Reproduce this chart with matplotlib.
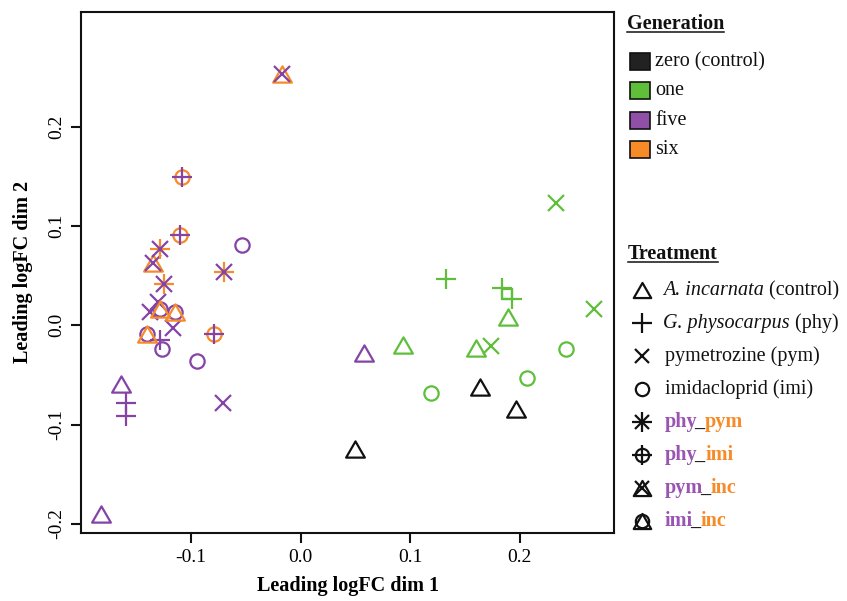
import matplotlib
matplotlib.use('Agg')
import matplotlib.pyplot as plt
from matplotlib.path import Path
from matplotlib.markers import MarkerStyle
from matplotlib.patches import Rectangle

plt.rcParams['font.family'] = ['Liberation Serif', 'DejaVu Serif']

# ---- data ----
# generation zero (control)
zero_inc_x = [0.0498, 0.1639, 0.1968]
zero_inc_y = [-0.1249, -0.0624, -0.0840]

# generation one
one_inc_x = [0.0933, 0.1600, 0.1892]
one_inc_y = [-0.0198, -0.0232, 0.0081]
one_phy_x = [0.1329, 0.1837, 0.1929]
one_phy_y = [0.0469, 0.0373, 0.0265]
one_pym_x = [0.2333, 0.2683, 0.1740]
one_pym_y = [0.1235, 0.0164, -0.0208]
one_imi_x = [0.2422, 0.2071, 0.1189]
one_imi_y = [-0.0242, -0.0528, -0.0685]
one_odd_x = [0.1883]
one_odd_y = [0.0315]

# generation five
five_inc_x = [-0.1822, -0.1642, 0.0580]
five_inc_y = [-0.1901, -0.0591, -0.0282]
five_phy_x = [-0.1596, -0.1596, -0.1283]
five_phy_y = [-0.0779, -0.0913, -0.0148]
five_pym_x = [-0.0705, -0.1162, -0.1374, -0.1299]
five_pym_y = [-0.0779, -0.0024, 0.0137, 0.0238]
five_imi_x = [-0.0537, -0.0942, -0.1262]
five_imi_y = [0.0809, -0.0360, -0.0242]

# generation six (combined treatments)
six_pym_inc_x = [-0.0166, -0.1344]
six_pym_inc_y = [0.2526, 0.0632]
six_phy_imi_x = [-0.1082, -0.1100, -0.0787]
six_phy_imi_y = [0.1494, 0.0909, -0.0088]
six_phy_pym_x = [-0.1283, -0.0696, -0.1244]
six_phy_pym_y = [0.0765, 0.0540, 0.0413]
six_imi_inc_x = [-0.1146, -0.1405, -0.1288]
six_imi_inc_y = [0.0129, -0.0091, 0.0164]

gen_labels = ['zero (control)', 'one', 'five', 'six']
x_ticks = [-0.1, 0.0, 0.1, 0.2]
y_ticks = [-0.2, -0.1, 0.0, 0.1, 0.2]

black = '#111111'
green = '#5fbf3a'
purple = '#8444a6'
orange = '#f68b28'
gen_colors = ['#222222', green, '#9150a8', orange]

tri = MarkerStyle(Path([(-1, -0.866), (1, -0.866), (0, 0.866), (-1, -0.866)],
                       [Path.MOVETO, Path.LINETO, Path.LINETO, Path.CLOSEPOLY]),
                  joinstyle='round')
mk = {'inc': (tri, 13.5), 'phy': ('+', 15), 'pym': ('x', 11), 'imi': ('o', 10.3),
      'sq': ('s', 7)}
lw = 1.6

fig = plt.figure(figsize=(8.47, 6.01), dpi=100)
ax = fig.add_axes([81 / 847, 1 - 532.7 / 601, (614 - 81) / 847, (532.7 - 11.7) / 601])


def pts(xs, ys, kind, color, scale=1.0):
    m, s = mk[kind]
    ax.plot(xs, ys, linestyle='none', marker=m, markersize=s * scale,
            markerfacecolor='none', markeredgecolor=color, markeredgewidth=lw)


pts(zero_inc_x, zero_inc_y, 'inc', black)

pts(one_inc_x, one_inc_y, 'inc', green)
pts(one_phy_x, one_phy_y, 'phy', green)
pts(one_pym_x, one_pym_y, 'pym', green)
pts(one_imi_x, one_imi_y, 'imi', green)
pts(one_odd_x, one_odd_y, 'sq', green)

pts(five_inc_x, five_inc_y, 'inc', purple)
pts(five_phy_x, five_phy_y, 'phy', purple)
pts(five_pym_x, five_pym_y, 'pym', purple)
pts(five_imi_x, five_imi_y, 'imi', purple)

pts(six_pym_inc_x, six_pym_inc_y, 'inc', orange)
pts(six_pym_inc_x, six_pym_inc_y, 'pym', purple)
pts(six_phy_imi_x, six_phy_imi_y, 'imi', orange)
pts(six_phy_imi_x, six_phy_imi_y, 'phy', purple)
pts(six_phy_pym_x, six_phy_pym_y, 'phy', orange)
pts(six_phy_pym_x, six_phy_pym_y, 'pym', purple)
pts(six_imi_inc_x, six_imi_inc_y, 'imi', purple)
pts(six_imi_inc_x, six_imi_inc_y, 'inc', orange)

ax.set_xlim(-0.2005, 0.2863)
ax.set_ylim(-0.2089, 0.3158)
ax.set_xticks(x_ticks)
ax.set_xticklabels(['%.1f' % v for v in x_ticks])
ax.set_yticks(y_ticks)
ax.set_yticklabels(['%.1f' % v for v in y_ticks], rotation=90, va='center')
ax.tick_params(labelsize=14, length=7, width=1.5, color='#111111')
ax.tick_params(axis='x', pad=5)
ax.tick_params(axis='y', pad=4)
for sp in ax.spines.values():
    sp.set_linewidth(1.5)
    sp.set_color('#111111')

ax.set_xlabel('Leading logFC dim 1', fontsize=14.5, fontweight='bold', labelpad=7)
ax.set_ylabel('Leading logFC dim 2', fontsize=14.5, fontweight='bold', labelpad=11)

# ---- legends, drawn in pixel coordinates ----
lax = fig.add_axes([0, 0, 1, 1], facecolor='none')
lax.set_xlim(0, 847)
lax.set_ylim(601, 0)
lax.axis('off')
fs_leg = 14.5


def title(txt, x, base, uy):
    t = lax.text(x, base, txt, fontsize=14.5, fontweight='bold', ha='left',
                 va='baseline', color='#111111')
    fig.canvas.draw()
    bb = t.get_window_extent().transformed(lax.transData.inverted())
    lax.plot([bb.x0, bb.x1], [uy, uy], color='#111111', lw=1.1)


title('Generation', 627, 29.3, 32.2)
for i, (lab, col) in enumerate(zip(gen_labels, gen_colors)):
    yc = 61.5 + 29.3 * i
    lax.add_patch(Rectangle((630, yc - 8.5), 20, 17, facecolor=col,
                            edgecolor='#111111', lw=1.2))
    lax.text(655, yc, lab, fontsize=fs_leg, ha='left', va='center', color='#111111')

title('Treatment', 628, 259.3, 262.2)

treat_syms = [['inc'], ['phy'], ['pym'], ['imi'],
              ['phy', 'pym'], ['phy', 'imi'], ['pym', 'inc'], ['imi', 'inc']]
for i, syms in enumerate(treat_syms):
    yc = 290 + 33 * i
    for s in syms:
        m, sz = mk[s]
        lax.plot([642], [yc], linestyle='none', marker=m, markersize=sz * 0.93,
                 markerfacecolor='none', markeredgecolor='#111111',
                 markeredgewidth=lw, clip_on=False)


def text_w(s, **kw):
    t = lax.text(0, 0, s, fontsize=fs_leg, **kw)
    r = fig.canvas.get_renderer()
    bb = t.get_window_extent(renderer=r).transformed(lax.transData.inverted())
    t.remove()
    return bb.x1 - bb.x0


def chain_simple(parts, x, y):
    cx = x
    for txt, col, style, weight, dx in parts:
        cx += dx
        lax.text(cx, y, txt, fontsize=fs_leg, color=col, style=style,
                 fontweight=weight, ha='left', va='baseline')
        cx += text_w(txt, style=style, fontweight=weight)


k = '#111111'
lab_purple = '#9a55b3'
chain_simple([('A. incarnata', k, 'italic', 'normal', 0),
              (' (control)', k, 'normal', 'normal', 0)], 663, 295)
chain_simple([('G. physocarpus', k, 'italic', 'normal', 0),
              (' (phy)', k, 'normal', 'normal', 0)], 663, 328)
chain_simple([('pymetrozine (pym)', k, 'normal', 'normal', 0)], 665, 361)
chain_simple([('imidacloprid (imi)', k, 'normal', 'normal', 0)], 665, 394)
combo_names = [('phy', 'pym'), ('phy', 'imi'), ('pym', 'inc'), ('imi', 'inc')]
for j, (a, b) in enumerate(combo_names):
    chain_simple([(a, lab_purple, 'normal', 'bold', 0),
                  ('_', k, 'normal', 'bold', -3),
                  (b, orange, 'normal', 'bold', 0.5)], 665, 427 + 33 * j)

fig.savefig('out.png', dpi=100)
